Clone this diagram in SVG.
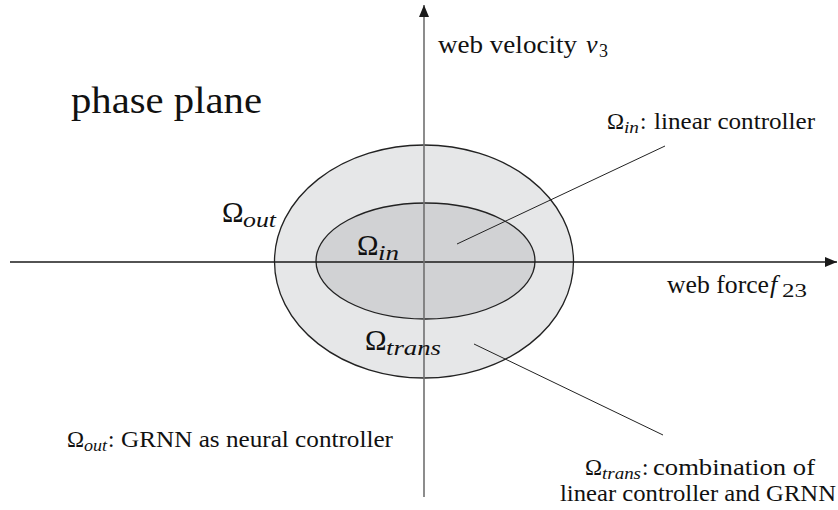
<svg xmlns="http://www.w3.org/2000/svg" width="838" height="510" viewBox="0 0 838 510" font-family="'Liberation Serif', 'DejaVu Serif', serif">
<style>
  text { font-family: 'Liberation Serif', 'DejaVu Serif', serif; fill: #111; }
  .it { font-style: italic; }
  .ell { stroke: #222; stroke-width: 1.3; }
  .lead { stroke: #222; stroke-width: 1; fill: none; }
</style>
<defs>
  <marker id="ah" viewBox="0 0 12 10" refX="12" refY="5" markerWidth="12" markerHeight="10" markerUnits="userSpaceOnUse" orient="auto">
    <polygon points="0,0 12,5 0,10" fill="#1a1a1a"/>
  </marker>
</defs>
<rect width="838" height="510" fill="#ffffff"/>

<g id="region-out">
  <ellipse class="ell" cx="424" cy="261.5" rx="149.5" ry="116.5" fill="#e6e7e8"/>
</g>
<g id="region-in">
  <ellipse class="ell" cx="425.5" cy="261" rx="109.5" ry="58" fill="#d1d2d4"/>
</g>

<g id="connectors">
  <line x1="10" y1="262" x2="837" y2="262" stroke="#1a1a1a" stroke-width="1.3" marker-end="url(#ah)"/>
  <line x1="424" y1="497" x2="424" y2="5" stroke="#707070" stroke-width="1.6" marker-end="url(#ah)"/>
  <line class="lead" x1="457" y1="244" x2="665" y2="146"/>
  <line class="lead" x1="474" y1="344" x2="663" y2="435"/>
</g>

<g id="label-phase-plane">
  <text x="71" y="113" font-size="37" textLength="191" lengthAdjust="spacingAndGlyphs">phase plane</text>
</g>

<g id="label-velocity">
  <text x="438" y="53" font-size="26" textLength="139" lengthAdjust="spacingAndGlyphs">web velocity</text>
  <text class="it" x="586" y="53" font-size="26">v</text>
  <text x="599" y="57" font-size="18">3</text>
</g>

<g id="label-force">
  <text x="667" y="293" font-size="26" textLength="102" lengthAdjust="spacingAndGlyphs">web force</text>
  <text class="it" x="770" y="293" font-size="26">f</text>
  <text x="782" y="297" font-size="18" textLength="25" lengthAdjust="spacingAndGlyphs">23</text>
</g>

<g id="label-omega-out">
  <text x="222" y="222" font-size="29">Ω</text>
  <text class="it" x="243" y="227" font-size="20" textLength="33" lengthAdjust="spacingAndGlyphs">out</text>
</g>

<g id="label-omega-in">
  <text x="357" y="255" font-size="29">Ω</text>
  <text class="it" x="378" y="260" font-size="20" textLength="21" lengthAdjust="spacingAndGlyphs">in</text>
</g>

<g id="label-omega-trans">
  <text x="365" y="350" font-size="29">Ω</text>
  <text class="it" x="386" y="355" font-size="20" textLength="55" lengthAdjust="spacingAndGlyphs">trans</text>
</g>

<g id="note-in">
  <text x="607" y="129" font-size="23">Ω</text>
  <text class="it" x="624" y="133" font-size="16" textLength="15" lengthAdjust="spacingAndGlyphs">in</text>
  <text x="640" y="129" font-size="23">:</text>
  <text x="654" y="129" font-size="23" textLength="161" lengthAdjust="spacingAndGlyphs">linear controller</text>
</g>

<g id="note-out">
  <text x="67" y="447" font-size="23">Ω</text>
  <text class="it" x="84" y="451" font-size="16" textLength="23" lengthAdjust="spacingAndGlyphs">out</text>
  <text x="108" y="447" font-size="23">:</text>
  <text x="121" y="447" font-size="23" textLength="272" lengthAdjust="spacingAndGlyphs">GRNN as neural controller</text>
</g>

<g id="note-trans">
  <text x="585" y="475" font-size="23">Ω</text>
  <text class="it" x="602" y="479" font-size="16" textLength="39" lengthAdjust="spacingAndGlyphs">trans</text>
  <text x="642" y="475" font-size="23">:</text>
  <text x="653" y="475" font-size="23" textLength="162" lengthAdjust="spacingAndGlyphs">combination of</text>
  <text x="560" y="501" font-size="23" textLength="276" lengthAdjust="spacingAndGlyphs">linear controller and GRNN</text>
</g>
</svg>
